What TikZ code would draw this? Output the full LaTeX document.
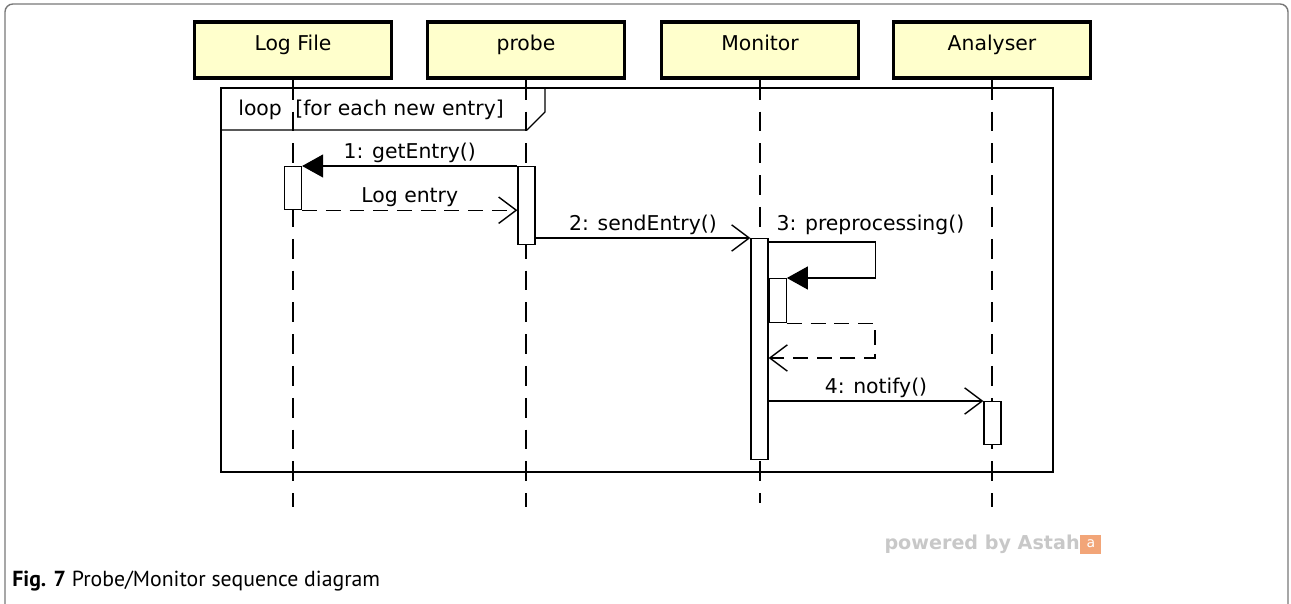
\documentclass[tikz,border=0pt]{standalone}
\usepackage{fontspec}
\setmainfont{DejaVu Sans}
\newfontfamily\capfont{PT Sans}
\usepackage{xcolor}
\usepackage{tikz}
\usetikzlibrary{arrows.meta,positioning,calc}
\definecolor{headfill}{RGB}{255,255,204}
\definecolor{pagegray}{RGB}{120,120,120}
\definecolor{astahgray}{RGB}{200,200,200}
\definecolor{astahorange}{RGB}{242,165,120}

\tikzset{
  head/.style={draw=black, line width=2pt, fill=headfill, minimum width=3.94cm,
    inner ysep=0pt, text height=0.58cm, text depth=0.54cm},
  life/.style={line width=0.8pt, dash pattern=on 11.3pt off 6.8pt},
  act/.style={draw=black, fill=white, line width=0.7pt, minimum width=0.34cm,
    inner sep=0pt, anchor=north},
  call/.style={line width=0.8pt, -{Triangle[length=11.9pt,width=13pt]}},
  send/.style={line width=0.8pt, -{Straight Barb[length=10pt,width=15pt,line width=0.8pt]}},
  reply/.style={send, dash pattern=on 8.5pt off 5pt},
  msg/.style={above, inner sep=1.5pt},
}

\begin{document}
\begin{tikzpicture}[x=0.02cm, y=-0.02cm, font=\fontsize{11.6}{13}\selectfont]
\useasboundingbox (0,0) rectangle (1291,604);
\draw[pagegray, line width=0.8pt, rounded corners=4.5pt] (5,615) -- (5,4) -- (1288,4) -- (1288,615);
%%%%%%%%%%%%%%%%
\coordinate (logfile end) at (293,507);
\coordinate (probe end) at (526,507);
\coordinate (monitor end) at (760,503);
\coordinate (analyser end) at (992,507);
\node[head] (logfile) at (293,50) {Log File};
\node[head] (probe) at (526,50) {probe};
\node[head] (monitor) at (760,50) {Monitor};
\node[head] (analyser) at (992,50) {Analyser};
\draw[life] (logfile.south) -- (logfile end);
\draw[life] (probe.south) -- (probe end);
\draw[life] (monitor.south) -- (monitor end);
\draw[life] (analyser.south) -- (analyser end);
%%%%%%%%%%%%%%%%
\draw[line width=0.7pt] (221,88) rectangle (1053,472);
\draw[line width=0.7pt] (221,130) -- (527,130) -- (545,112) -- (545,88);
\node[anchor=west, inner sep=0pt] (looplabel) at (238,110) {loop};
\node[anchor=west, inner sep=0pt] (guard) at (295,110) {[for each new entry]};
%%%%%%%%%%%%%%%%
\node[act, minimum height=0.86cm] (logact) at (293,166) {};
\node[act, minimum height=1.56cm] (probeact) at (526.5,166) {};
\node[act, minimum height=4.42cm] (monact) at (759.5,238) {};
\node[act, minimum height=0.88cm, anchor=north west] (preact) at (monact.east |- 0,278) {};
\node[act, minimum height=0.86cm] (anaact) at (992.5,401) {};
%%%%%%%%%%%%%%%%
\draw[call] (probeact.north west) -- node[msg] {1: getEntry()} (logact.north east);
\draw[reply] (logact.south east) -- node[msg] {Log entry} (logact.south east -| probeact.west);
\draw[send] (monact.north west -| probeact.east) -- node[msg] {2: sendEntry()} (monact.north west);
\draw[call] ($(monact.north east)+(0,4)$) -- ++(107,0) |- (preact.north east);
\node[anchor=south west, inner sep=1.5pt] (prelabel) at ($(monact.north east)+(5,0)$) {3: preprocessing()};
\draw[reply] (preact.south east) -- ++(88,0) |- (monact.east |- 0,358);
\draw[send] (monact.east |- anaact.north) -- node[msg] {4: notify()} (anaact.north west);
%%%%%%%%%%%%%%%%
\node[anchor=east, inner sep=0pt, text=astahgray, font=\fontsize{10.9}{13}\selectfont\bfseries] (astah) at (1080,544) {powered by Astah};
\node[anchor=west, fill=astahorange, minimum width=0.42cm, minimum height=0.38cm, inner sep=0pt,
  text=white, font=\fontsize{8}{8}\selectfont] (astahlogo) at (astah.east) {a};
\node[anchor=west, inner sep=0pt, font=\capfont\fontsize{12.4}{14}\selectfont] (caption) at (12,581)
  {\textbf{Fig. 7} Probe/Monitor sequence diagram};
\end{tikzpicture}
\end{document}
